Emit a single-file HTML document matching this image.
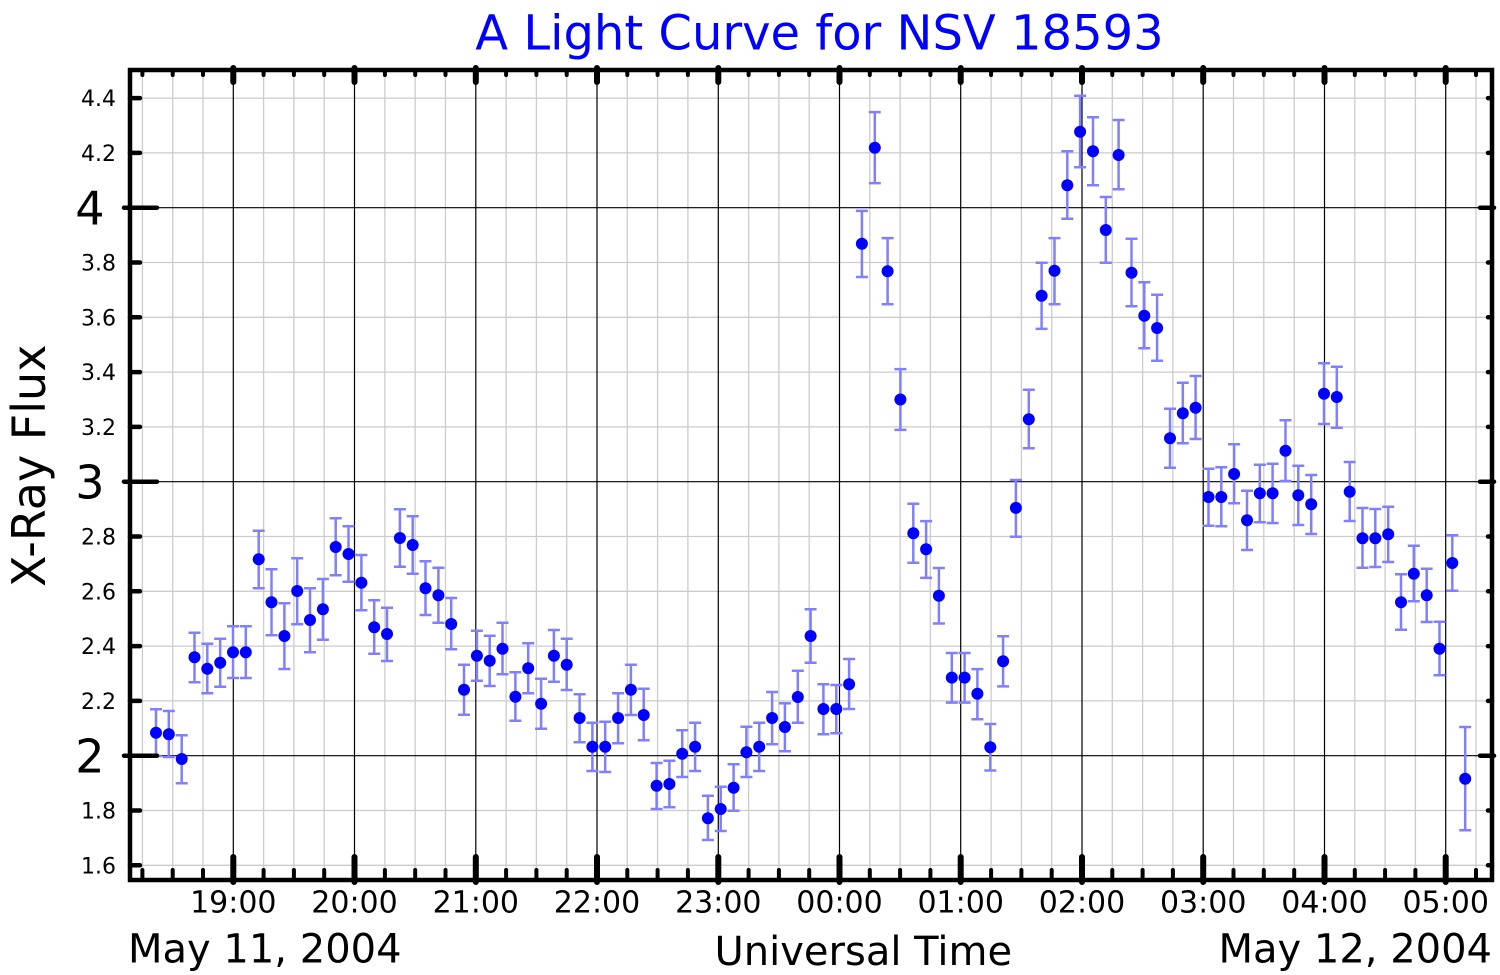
<!DOCTYPE html>
<html>
<head>
<meta charset="utf-8">
<style>
html,body{margin:0;padding:0;background:#fff;}
svg{display:block;}
text{font-family:"DejaVu Sans","Liberation Sans",sans-serif;}
</style>
</head>
<body>
<svg width="1500" height="975" viewBox="0 0 1500 975" xmlns="http://www.w3.org/2000/svg">
<rect x="0" y="0" width="1500" height="975" fill="#fff"/>

<g stroke="#cccccc" stroke-width="1.3" fill="none">
<path d="M142.4,70V880M172.7,70V880M203.0,70V880M263.6,70V880M293.9,70V880M324.2,70V880M384.9,70V880M415.2,70V880M445.5,70V880M506.1,70V880M536.4,70V880M566.7,70V880M627.3,70V880M657.6,70V880M687.9,70V880M748.6,70V880M778.9,70V880M809.2,70V880M869.8,70V880M900.1,70V880M930.4,70V880M991.1,70V880M1021.4,70V880M1051.7,70V880M1112.3,70V880M1142.6,70V880M1172.9,70V880M1233.5,70V880M1263.8,70V880M1294.2,70V880M1354.8,70V880M1385.1,70V880M1415.4,70V880M1476.0,70V880"/>
<path d="M130,865.3H1492M130,810.5H1492M130,700.9H1492M130,646.1H1492M130,591.3H1492M130,536.5H1492M130,426.9H1492M130,372.1H1492M130,317.3H1492M130,262.5H1492M130,152.9H1492M130,98.1H1492"/>
</g>
<g stroke="#000" stroke-width="1.2" fill="none">
<path d="M233.3,70V880M354.5,70V880M475.8,70V880M597.0,70V880M718.3,70V880M839.5,70V880M960.7,70V880M1082.0,70V880M1203.2,70V880M1324.5,70V880M1445.7,70V880"/>
<path d="M130,755.7H1492M130,481.7H1492M130,207.7H1492"/>
</g>

<path fill="none" stroke="#8080ff" stroke-width="2.5" d="
M156.0,709.3m-6,0h12m-6,0V756m-6,0h12
M168.8,711m-6,0h12m-6,0V757m-6,0h12
M181.7,735.3m-6,0h12m-6,0V783.3m-6,0h12
M194.5,632.7m-6,0h12m-6,0V682.3m-6,0h12
M207.3,643.7m-6,0h12m-6,0V693.3m-6,0h12
M220.2,638.7m-6,0h12m-6,0V686.7m-6,0h12
M233.0,626.3m-6,0h12m-6,0V678m-6,0h12
M245.8,626.3m-6,0h12m-6,0V678m-6,0h12
M258.7,530.7m-6,0h12m-6,0V588.3m-6,0h12
M271.5,569.3m-6,0h12m-6,0V635.3m-6,0h12
M284.4,603.3m-6,0h12m-6,0V669m-6,0h12
M297.2,558.3m-6,0h12m-6,0V624.3m-6,0h12
M310.0,588.3m-6,0h12m-6,0V652.3m-6,0h12
M322.9,579m-6,0h12m-6,0V639.7m-6,0h12
M335.7,518.3m-6,0h12m-6,0V575.3m-6,0h12
M348.5,526.3m-6,0h12m-6,0V581.7m-6,0h12
M361.4,555m-6,0h12m-6,0V610.3m-6,0h12
M374.2,600.3m-6,0h12m-6,0V653.7m-6,0h12
M387.0,607.7m-6,0h12m-6,0V661m-6,0h12
M399.9,509.3m-6,0h12m-6,0V566.7m-6,0h12
M412.7,516.3m-6,0h12m-6,0V573.7m-6,0h12
M425.5,561.3m-6,0h12m-6,0V615m-6,0h12
M438.4,567.7m-6,0h12m-6,0V622.7m-6,0h12
M451.2,598m-6,0h12m-6,0V649.3m-6,0h12
M464.0,664.7m-6,0h12m-6,0V714.7m-6,0h12
M476.9,630.7m-6,0h12m-6,0V680.7m-6,0h12
M489.7,635.7m-6,0h12m-6,0V686m-6,0h12
M502.5,622.7m-6,0h12m-6,0V674.3m-6,0h12
M515.4,672.3m-6,0h12m-6,0V720.7m-6,0h12
M528.2,643.3m-6,0h12m-6,0V693.3m-6,0h12
M541.1,678.7m-6,0h12m-6,0V728.7m-6,0h12
M553.9,630m-6,0h12m-6,0V681.7m-6,0h12
M566.7,638.7m-6,0h12m-6,0V690m-6,0h12
M579.6,694.3m-6,0h12m-6,0V742.3m-6,0h12
M592.4,722.7m-6,0h12m-6,0V771m-6,0h12
M605.2,721.7m-6,0h12m-6,0V772m-6,0h12
M618.1,693.3m-6,0h12m-6,0V743.3m-6,0h12
M630.9,664.7m-6,0h12m-6,0V715m-6,0h12
M643.7,688.7m-6,0h12m-6,0V740.3m-6,0h12
M656.6,763m-6,0h12m-6,0V809m-6,0h12
M669.4,760.7m-6,0h12m-6,0V807.3m-6,0h12
M682.2,730.3m-6,0h12m-6,0V777m-6,0h12
M695.1,722.7m-6,0h12m-6,0V771m-6,0h12
M707.9,795.7m-6,0h12m-6,0V840m-6,0h12
M720.7,786.7m-6,0h12m-6,0V831m-6,0h12
M733.6,764.3m-6,0h12m-6,0V810.7m-6,0h12
M746.4,726.7m-6,0h12m-6,0V777m-6,0h12
M759.2,722.7m-6,0h12m-6,0V771m-6,0h12
M772.1,692m-6,0h12m-6,0V744.3m-6,0h12
M784.9,703.3m-6,0h12m-6,0V751.3m-6,0h12
M797.8,670.7m-6,0h12m-6,0V722.7m-6,0h12
M810.6,609.3m-6,0h12m-6,0V662.7m-6,0h12
M823.4,684.3m-6,0h12m-6,0V734.3m-6,0h12
M836.3,685m-6,0h12m-6,0V733.3m-6,0h12
M849.1,659m-6,0h12m-6,0V709m-6,0h12
M861.9,210.9m-6,0h12m-6,0V277m-6,0h12
M874.8,112.1m-6,0h12m-6,0V183.1m-6,0h12
M887.6,238.1m-6,0h12m-6,0V304.3m-6,0h12
M900.4,369.1m-6,0h12m-6,0V429.9m-6,0h12
M913.3,503.7m-6,0h12m-6,0V562.7m-6,0h12
M926.1,521.1m-6,0h12m-6,0V577.9m-6,0h12
M938.9,568m-6,0h12m-6,0V623.5m-6,0h12
M951.8,653m-6,0h12m-6,0V702.6m-6,0h12
M964.6,653m-6,0h12m-6,0V702.6m-6,0h12
M977.4,669.1m-6,0h12m-6,0V719.2m-6,0h12
M990.3,724m-6,0h12m-6,0V770.5m-6,0h12
M1003.1,636.3m-6,0h12m-6,0V686.4m-6,0h12
M1015.9,480m-6,0h12m-6,0V536.7m-6,0h12
M1028.8,389.7m-6,0h12m-6,0V448.2m-6,0h12
M1041.6,262.7m-6,0h12m-6,0V328.9m-6,0h12
M1054.5,238.1m-6,0h12m-6,0V304.3m-6,0h12
M1067.3,151.3m-6,0h12m-6,0V218.7m-6,0h12
M1080.1,95.7m-6,0h12m-6,0V167.3m-6,0h12
M1093.0,117.3m-6,0h12m-6,0V185.3m-6,0h12
M1105.8,197m-6,0h12m-6,0V262.7m-6,0h12
M1118.6,120m-6,0h12m-6,0V189.3m-6,0h12
M1131.5,238.7m-6,0h12m-6,0V306.3m-6,0h12
M1144.3,282.3m-6,0h12m-6,0V348.3m-6,0h12
M1157.1,294.7m-6,0h12m-6,0V360.7m-6,0h12
M1170.0,408.7m-6,0h12m-6,0V467.7m-6,0h12
M1182.8,382.7m-6,0h12m-6,0V443.3m-6,0h12
M1195.6,376m-6,0h12m-6,0V439m-6,0h12
M1208.5,468.7m-6,0h12m-6,0V525.7m-6,0h12
M1221.3,467.3m-6,0h12m-6,0V526.3m-6,0h12
M1234.1,444.3m-6,0h12m-6,0V503.3m-6,0h12
M1247.0,490.7m-6,0h12m-6,0V550m-6,0h12
M1259.8,464.7m-6,0h12m-6,0V522.3m-6,0h12
M1272.6,463.7m-6,0h12m-6,0V523m-6,0h12
M1285.5,420.3m-6,0h12m-6,0V481m-6,0h12
M1298.3,465.7m-6,0h12m-6,0V525m-6,0h12
M1311.2,475m-6,0h12m-6,0V534m-6,0h12
M1324.0,363.3m-6,0h12m-6,0V424m-6,0h12
M1336.8,366.7m-6,0h12m-6,0V427.7m-6,0h12
M1349.7,462m-6,0h12m-6,0V521m-6,0h12
M1362.5,508m-6,0h12m-6,0V567.7m-6,0h12
M1375.3,509m-6,0h12m-6,0V567m-6,0h12
M1388.2,506.7m-6,0h12m-6,0V562m-6,0h12
M1401.0,574.3m-6,0h12m-6,0V629.7m-6,0h12
M1413.8,545.7m-6,0h12m-6,0V601.3m-6,0h12
M1426.7,568.7m-6,0h12m-6,0V622m-6,0h12
M1439.5,621.7m-6,0h12m-6,0V675.3m-6,0h12
M1452.3,535.3m-6,0h12m-6,0V590.7m-6,0h12
M1465.2,727m-6,0h12m-6,0V830.3m-6,0h12
"/>

<g fill="#0000ff">
<circle cx="156.0" cy="732.7" r="6"/><circle cx="168.8" cy="734.3" r="6"/><circle cx="181.7" cy="759" r="6"/><circle cx="194.5" cy="657.3" r="6"/><circle cx="207.3" cy="668.7" r="6"/><circle cx="220.2" cy="662.7" r="6"/><circle cx="233.0" cy="652.3" r="6"/><circle cx="245.8" cy="652.3" r="6"/><circle cx="258.7" cy="559.3" r="6"/><circle cx="271.5" cy="602.3" r="6"/>
<circle cx="284.4" cy="636" r="6"/><circle cx="297.2" cy="591" r="6"/><circle cx="310.0" cy="620" r="6"/><circle cx="322.9" cy="609.3" r="6"/><circle cx="335.7" cy="547" r="6"/><circle cx="348.5" cy="554" r="6"/><circle cx="361.4" cy="582.7" r="6"/><circle cx="374.2" cy="627.3" r="6"/><circle cx="387.0" cy="634" r="6"/><circle cx="399.9" cy="538" r="6"/>
<circle cx="412.7" cy="545" r="6"/><circle cx="425.5" cy="588.3" r="6"/><circle cx="438.4" cy="595.3" r="6"/><circle cx="451.2" cy="624" r="6"/><circle cx="464.0" cy="689.7" r="6"/><circle cx="476.9" cy="655.7" r="6"/><circle cx="489.7" cy="660.7" r="6"/><circle cx="502.5" cy="648.7" r="6"/><circle cx="515.4" cy="696.7" r="6"/><circle cx="528.2" cy="668.3" r="6"/>
<circle cx="541.1" cy="703.7" r="6"/><circle cx="553.9" cy="655.7" r="6"/><circle cx="566.7" cy="664.7" r="6"/><circle cx="579.6" cy="718" r="6"/><circle cx="592.4" cy="746.7" r="6"/><circle cx="605.2" cy="746.7" r="6"/><circle cx="618.1" cy="718" r="6"/><circle cx="630.9" cy="689.7" r="6"/><circle cx="643.7" cy="715" r="6"/><circle cx="656.6" cy="785.7" r="6"/>
<circle cx="669.4" cy="784" r="6"/><circle cx="682.2" cy="753.7" r="6"/><circle cx="695.1" cy="746.7" r="6"/><circle cx="707.9" cy="818.3" r="6"/><circle cx="720.7" cy="809" r="6"/><circle cx="733.6" cy="787.7" r="6"/><circle cx="746.4" cy="752.3" r="6"/><circle cx="759.2" cy="746.7" r="6"/><circle cx="772.1" cy="718" r="6"/><circle cx="784.9" cy="727" r="6"/>
<circle cx="797.8" cy="697" r="6"/><circle cx="810.6" cy="636" r="6"/><circle cx="823.4" cy="709" r="6"/><circle cx="836.3" cy="709" r="6"/><circle cx="849.1" cy="684.3" r="6"/><circle cx="861.9" cy="243.8" r="6"/><circle cx="874.8" cy="147.8" r="6"/><circle cx="887.6" cy="271.2" r="6"/><circle cx="900.4" cy="399.5" r="6"/><circle cx="913.3" cy="533.2" r="6"/>
<circle cx="926.1" cy="549.3" r="6"/><circle cx="938.9" cy="595.8" r="6"/><circle cx="951.8" cy="677.6" r="6"/><circle cx="964.6" cy="677.6" r="6"/><circle cx="977.4" cy="693.7" r="6"/><circle cx="990.3" cy="747.3" r="6"/><circle cx="1003.1" cy="661.2" r="6"/><circle cx="1015.9" cy="507.9" r="6"/><circle cx="1028.8" cy="419.2" r="6"/><circle cx="1041.6" cy="295.8" r="6"/>
<circle cx="1054.5" cy="270.8" r="6"/><circle cx="1067.3" cy="185.3" r="6"/><circle cx="1080.1" cy="131.7" r="6"/><circle cx="1093.0" cy="151.3" r="6"/><circle cx="1105.8" cy="230" r="6"/><circle cx="1118.6" cy="155" r="6"/><circle cx="1131.5" cy="272.7" r="6"/><circle cx="1144.3" cy="315.7" r="6"/><circle cx="1157.1" cy="328" r="6"/><circle cx="1170.0" cy="438.3" r="6"/>
<circle cx="1182.8" cy="413.3" r="6"/><circle cx="1195.6" cy="407.7" r="6"/><circle cx="1208.5" cy="497" r="6"/><circle cx="1221.3" cy="497" r="6"/><circle cx="1234.1" cy="474" r="6"/><circle cx="1247.0" cy="520.3" r="6"/><circle cx="1259.8" cy="493.3" r="6"/><circle cx="1272.6" cy="493.3" r="6"/><circle cx="1285.5" cy="450.7" r="6"/><circle cx="1298.3" cy="495.3" r="6"/>
<circle cx="1311.2" cy="504.3" r="6"/><circle cx="1324.0" cy="393.7" r="6"/><circle cx="1336.8" cy="397" r="6"/><circle cx="1349.7" cy="491.7" r="6"/><circle cx="1362.5" cy="538.3" r="6"/><circle cx="1375.3" cy="538.3" r="6"/><circle cx="1388.2" cy="534.3" r="6"/><circle cx="1401.0" cy="602.3" r="6"/><circle cx="1413.8" cy="573.7" r="6"/><circle cx="1426.7" cy="595.3" r="6"/>
<circle cx="1439.5" cy="648.7" r="6"/><circle cx="1452.3" cy="563" r="6"/><circle cx="1465.2" cy="778.7" r="6"/>
</g>

<rect x="130" y="70" width="1362" height="810" fill="none" stroke="#000" stroke-width="4.5"/>

<g stroke="#000" stroke-linecap="round" fill="none">
<path stroke-width="4" d="M142.4,880V870M172.7,880V870M203.0,880V870M263.6,880V870M293.9,880V870M324.2,880V870M384.9,880V870M415.2,880V870M445.5,880V870M506.1,880V870M536.4,880V870M566.7,880V870M627.3,880V870M657.6,880V870M687.9,880V870M748.6,880V870M778.9,880V870M809.2,880V870M869.8,880V870M900.1,880V870M930.4,880V870M991.1,880V870M1021.4,880V870M1051.7,880V870M1112.3,880V870M1142.6,880V870M1172.9,880V870M1233.5,880V870M1263.8,880V870M1294.2,880V870M1354.8,880V870M1385.1,880V870M1415.4,880V870M1476.0,880V870"/>
<path stroke-width="4" d="M142.4,70V75M172.7,70V75M203.0,70V75M263.6,70V75M293.9,70V75M324.2,70V75M384.9,70V75M415.2,70V75M445.5,70V75M506.1,70V75M536.4,70V75M566.7,70V75M627.3,70V75M657.6,70V75M687.9,70V75M748.6,70V75M778.9,70V75M809.2,70V75M869.8,70V75M900.1,70V75M930.4,70V75M991.1,70V75M1021.4,70V75M1051.7,70V75M1112.3,70V75M1142.6,70V75M1172.9,70V75M1233.5,70V75M1263.8,70V75M1294.2,70V75M1354.8,70V75M1385.1,70V75M1415.4,70V75M1476.0,70V75"/>
<path stroke-width="6" d="M233.3,882V857M354.5,882V857M475.8,882V857M597.0,882V857M718.3,882V857M839.5,882V857M960.7,882V857M1082.0,882V857M1203.2,882V857M1324.5,882V857M1445.7,882V857"/>
<path stroke-width="6" d="M233.3,68V82M354.5,68V82M475.8,68V82M597.0,68V82M718.3,68V82M839.5,68V82M960.7,68V82M1082.0,68V82M1203.2,68V82M1324.5,68V82M1445.7,68V82"/>
<path stroke-width="4.5" d="M130,865.3H140M130,810.5H140M130,700.9H140M130,646.1H140M130,591.3H140M130,536.5H140M130,426.9H140M130,372.1H140M130,317.3H140M130,262.5H140M130,152.9H140M130,98.1H140"/>
<path stroke-width="4.5" d="M1492,865.3H1488M1492,810.5H1488M1492,700.9H1488M1492,646.1H1488M1492,591.3H1488M1492,536.5H1488M1492,426.9H1488M1492,372.1H1488M1492,317.3H1488M1492,262.5H1488M1492,152.9H1488M1492,98.1H1488"/>
<path stroke-width="4.5" d="M124,755.7H157M124,481.7H157M124,207.7H157"/>
<path stroke-width="4.5" d="M1494,755.7H1480M1494,481.7H1480M1494,207.7H1480"/>
</g>

<g font-size="22" text-anchor="end" fill="#000">
<text x="116" y="873.3">1.6</text>
<text x="116" y="818.5">1.8</text>
<text x="116" y="708.9">2.2</text>
<text x="116" y="654.1">2.4</text>
<text x="116" y="599.3">2.6</text>
<text x="116" y="544.5">2.8</text>
<text x="116" y="434.9">3.2</text>
<text x="116" y="380.1">3.4</text>
<text x="116" y="325.3">3.6</text>
<text x="116" y="270.5">3.8</text>
<text x="116" y="160.9">4.2</text>
<text x="116" y="106.1">4.4</text>
</g>
<g font-size="46" text-anchor="end" fill="#000">
<text x="104.5" y="772.5">2</text>
<text x="104.5" y="498.5">3</text>
<text x="104.5" y="224.5">4</text>
</g>

<g font-size="30" text-anchor="middle" fill="#000">
<text x="233.3" y="912.7">19:00</text>
<text x="354.5" y="912.7">20:00</text>
<text x="475.8" y="912.7">21:00</text>
<text x="597.0" y="912.7">22:00</text>
<text x="718.3" y="912.7">23:00</text>
<text x="839.5" y="912.7">00:00</text>
<text x="960.7" y="912.7">01:00</text>
<text x="1082.0" y="912.7">02:00</text>
<text x="1203.2" y="912.7">03:00</text>
<text x="1324.5" y="912.7">04:00</text>
<text x="1445.7" y="912.7">05:00</text>
</g>

<text x="128" y="962.7" font-size="40" fill="#000">May 11, 2004</text>
<text x="1492" y="962.7" font-size="40" text-anchor="end" fill="#000">May 12, 2004</text>
<text x="863.3" y="965" font-size="40" text-anchor="middle" fill="#000">Universal Time</text>
<text transform="translate(45,465.8) rotate(-90)" font-size="46" text-anchor="middle" fill="#000">X-Ray Flux</text>

<text x="819.5" y="49.3" font-size="48" text-anchor="middle" fill="#0000ff">A Light Curve for NSV 18593</text>
</svg>
</body>
</html>
